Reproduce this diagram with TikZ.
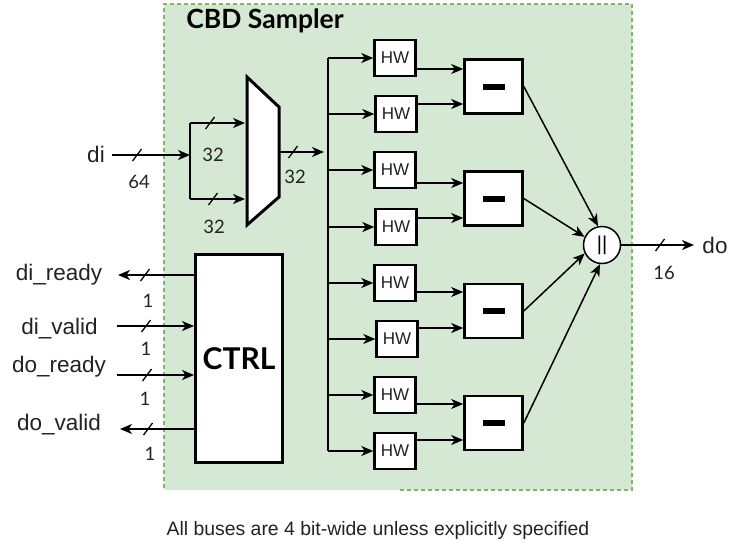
\documentclass[tikz,border=0pt]{standalone}
\usepackage{fontspec}
\setmainfont{Liberation Sans}
\newfontfamily\latofont{Lato}
\usetikzlibrary{arrows.meta}
\definecolor{grfill}{HTML}{D5E8D4}
\definecolor{grline}{HTML}{82B366}
\definecolor{txtgray}{HTML}{222222}
\tikzset{
  wire/.style={line width=1.5pt,-{Stealth[length=12pt,width=10pt,inset=3.5pt]}},
  bus/.style={line width=1.5pt},
  hwbox/.style={draw,line width=2.4pt,fill=white,minimum width=41pt,minimum height=36pt,inner sep=0pt,text=txtgray,font=\fontsize{17}{17}\selectfont},
  subbox/.style={draw,line width=2.6pt,fill=white,minimum width=58pt,minimum height=54pt,inner sep=0pt},
  catnode/.style={draw,circle,line width=1.5pt,fill=white,minimum size=37pt,inner sep=0pt,font=\fontsize{20}{20}\selectfont},
  ctrlbox/.style={draw,line width=3pt,fill=white,minimum width=87pt,minimum height=208pt,inner sep=0pt,font=\latofont\bfseries\fontsize{30}{30}\selectfont},
  num/.style={anchor=base,inner sep=0pt,text=txtgray,font=\latofont\fontsize{18.5}{18.5}\selectfont},
  sig/.style={anchor=base,inner sep=0pt,text=txtgray,font=\fontsize{22.5}{22.5}\selectfont},
  slash/.pic={\draw[line width=1.3pt] (-4.5pt,-6pt) -- (4.5pt,6pt);}
}
\begin{document}
\begin{tikzpicture}[x=1pt,y=-1pt]
\useasboundingbox (0,0) rectangle (729,544);
% container
\fill[grfill,rounded corners=2pt] (164,4) rectangle (632,490);
\draw[grline,line width=1.2pt,dash pattern=on 4pt off 3pt] (400,490) -- (632,490) -- (632,4) -- (164,4) -- (164,490);
\node[anchor=base,inner sep=0pt,font=\latofont\bfseries\fontsize{26.5}{26.5}\selectfont] (title) at (265,28) {CBD Sampler};
% mux
\draw[line width=3pt,fill=white,line join=miter] (247,77) -- (279,107) -- (279,197) -- (247,225) -- cycle;
\coordinate (muxa) at (245,123);
\coordinate (muxb) at (245,199);
\coordinate (muxo) at (280,152);
% di input
\node[sig] (di) at (96,162) {di};
\coordinate (diS) at (112,155);
\coordinate (split) at (190,155);
\coordinate (splitA) at (190,123);
\coordinate (splitB) at (190,199);
\draw[wire] (diS) -- (split);
\pic at (137,155) {slash};
\node[num] (n64) at (139,188) {64};
\draw[bus] (splitA) -- (splitB);
\draw[wire] (splitA) -- (muxa);
\draw[wire] (splitB) -- (muxb);
\pic at (210,123) {slash};
\pic at (213,199) {slash};
\node[num] (n32a) at (213,161) {32};
\node[num] (n32b) at (214,233) {32};
% mux out
\coordinate (busin) at (324,152);
\draw[wire] (muxo) -- (busin);
\pic at (293,152) {slash};
\node[num] (n32c) at (295,183) {32};
% HW boxes
\foreach \i/\y/\xx in {1/58/395,2/114/396,3/170/395,4/227/396,5/283/395,6/339/397,7/395/395,8/451/395} {
  \node[hwbox] (hw\i) at (\xx,\y) {HW};
  \coordinate (b\i) at (328,\y);
  \draw[wire] (b\i) -- (hw\i.west);
}
\draw[bus] (b1) -- (b8);
% subtractors
\foreach \i/\y in {1/86.5,2/198.5,3/311,4/423} {
  \node[subbox] (sub\i) at (493.5,\y) {\rule{22pt}{6pt}};
}
\draw[wire] (hw1.east |- 0,69) -- (sub1.west |- 0,69);
\draw[wire] (hw2.east |- 0,104) -- (sub1.west |- 0,104);
\draw[wire] (hw3.east |- 0,183) -- (sub2.west |- 0,183);
\draw[wire] (hw4.east |- 0,218) -- (sub2.west |- 0,218);
\draw[wire] (hw5.east |- 0,292) -- (sub3.west |- 0,292);
\draw[wire] (hw6.east |- 0,328) -- (sub3.west |- 0,328);
\draw[wire] (hw7.east |- 0,404) -- (sub4.west |- 0,404);
\draw[wire] (hw8.east |- 0,440) -- (sub4.west |- 0,440);
% concat
\node[catnode] (cat) at (602,245) {||};
\draw[wire] (sub1.east) -- (cat.102);
\draw[wire] (sub2.east) -- (cat.155);
\draw[wire] (sub3.east) -- (cat.206);
\draw[wire] (sub4.east) -- (cat.264);
\coordinate (doE) at (694,245);
\draw[wire] (cat.east) -- (doE);
\pic at (660,245) {slash};
\node[num] (n16) at (664,279) {16};
\node[sig] (do) at (715,253) {do};
% CTRL
\node[ctrlbox] (ctrl) at (239,358.5) {CTRL};
\coordinate (drE) at (118,275);
\coordinate (dvS) at (117,326);
\coordinate (orS) at (117,375);
\coordinate (ovE) at (120,429);
\draw[wire] (ctrl.west |- 0,275) -- (drE);
\draw[wire] (dvS) -- (ctrl.west |- 0,326);
\draw[wire] (orS) -- (ctrl.west |- 0,375);
\draw[wire] (ctrl.west |- 0,429) -- (ovE);
\pic at (145,275) {slash};
\pic at (146,326) {slash};
\pic at (147,375) {slash};
\pic at (148,429) {slash};
\node[sig] (dready) at (59,280) {di\_ready};
\node[sig] (dvalid) at (59.5,334) {di\_valid};
\node[sig] (oready) at (59,372) {do\_ready};
\node[sig] (ovalid) at (59,430) {do\_valid};
\node[num] (n1a) at (148,307) {1};
\node[num] (n1b) at (146,355) {1};
\node[num] (n1c) at (145,405) {1};
\node[num] (n1d) at (150,460) {1};
% note
\node[anchor=base,inner sep=0pt,text=txtgray,font=\fontsize{19.4}{19.4}\selectfont] (note) at (378,535) {All buses are 4 bit-wide unless explicitly specified};
\end{tikzpicture}
\end{document}
